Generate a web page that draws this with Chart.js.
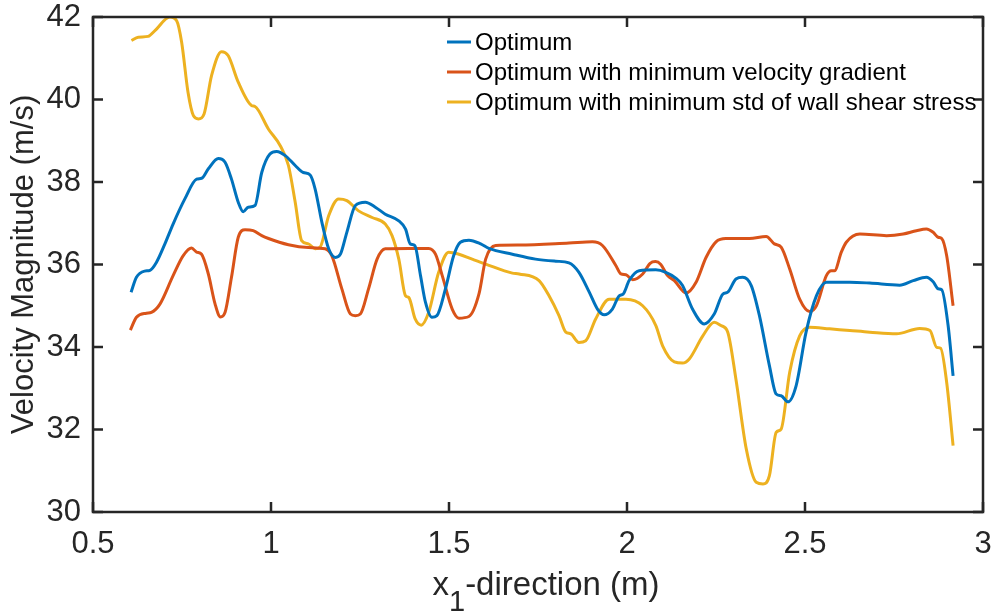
<!DOCTYPE html>
<html>
<head>
<meta charset="utf-8">
<script src="https://cdn.jsdelivr.net/npm/chart.js@4.4.1/dist/chart.umd.min.js"></script>
<style>
  body { margin: 0; background: #fff; }
  #chart_content { display: block; }
</style>
</head>
<body>
<canvas id="chart_content" width="995" height="613"></canvas>
<script>
var xTicks = [0.5, 1, 1.5, 2, 2.5, 3];
var yTicks = [30, 32, 34, 36, 38, 40, 42];

var seriesNames = [
  "Optimum",
  "Optimum with minimum velocity gradient",
  "Optimum with minimum std of wall shear stress",
];

var optimumX = [0.607, 0.622, 0.645, 0.660, 0.678, 0.702, 0.725, 0.758, 0.791, 0.805, 0.824, 0.852, 0.871, 0.889, 0.908, 0.922, 0.936, 0.955, 0.974, 0.997, 1.016, 1.040, 1.068, 1.091, 1.110, 1.124, 1.143, 1.162, 1.181, 1.195, 1.213, 1.237, 1.265, 1.293, 1.321, 1.359, 1.378, 1.391, 1.404, 1.420, 1.434, 1.452, 1.466, 1.490, 1.513, 1.532, 1.556, 1.589, 1.612, 1.678, 1.743, 1.800, 1.837, 1.865, 1.894, 1.917, 1.936, 1.959, 1.978, 1.989, 2.006, 2.034, 2.081, 2.109, 2.137, 2.156, 2.184, 2.217, 2.245, 2.269, 2.283, 2.306, 2.325, 2.349, 2.372, 2.400, 2.419, 2.433, 2.452, 2.475, 2.503, 2.532, 2.560, 2.626, 2.682, 2.766, 2.804, 2.841, 2.860, 2.874, 2.884, 2.902, 2.916];
var optimumY = [35.33, 35.69, 35.84, 35.86, 36.05, 36.50, 36.98, 37.59, 38.07, 38.09, 38.32, 38.57, 38.48, 38.07, 37.51, 37.28, 37.39, 37.43, 38.23, 38.68, 38.74, 38.64, 38.40, 38.23, 38.17, 37.83, 37.02, 36.38, 36.17, 36.25, 36.78, 37.43, 37.51, 37.39, 37.22, 37.06, 36.86, 36.50, 36.46, 35.73, 35.08, 34.72, 34.76, 35.41, 36.21, 36.54, 36.59, 36.50, 36.39, 36.25, 36.13, 36.08, 36.04, 35.81, 35.33, 34.92, 34.78, 34.92, 35.24, 35.28, 35.61, 35.85, 35.87, 35.81, 35.67, 35.49, 34.92, 34.56, 34.80, 35.28, 35.33, 35.65, 35.69, 35.49, 34.76, 33.55, 32.86, 32.82, 32.67, 33.06, 34.36, 35.24, 35.57, 35.57, 35.55, 35.50, 35.61, 35.69, 35.58, 35.41, 35.39, 34.52, 33.30];

var gradientX = [0.605, 0.622, 0.650, 0.664, 0.688, 0.725, 0.753, 0.777, 0.791, 0.805, 0.824, 0.843, 0.858, 0.871, 0.889, 0.908, 0.927, 0.950, 0.974, 0.993, 1.049, 1.105, 1.152, 1.171, 1.199, 1.223, 1.237, 1.251, 1.274, 1.298, 1.321, 1.387, 1.443, 1.462, 1.481, 1.509, 1.528, 1.556, 1.584, 1.603, 1.631, 1.697, 1.837, 1.903, 1.931, 1.969, 1.983, 1.997, 2.016, 2.044, 2.065, 2.080, 2.095, 2.114, 2.133, 2.166, 2.194, 2.222, 2.250, 2.278, 2.344, 2.391, 2.414, 2.433, 2.457, 2.485, 2.513, 2.532, 2.560, 2.574, 2.583, 2.602, 2.616, 2.654, 2.729, 2.776, 2.813, 2.841, 2.860, 2.874, 2.884, 2.898, 2.916];
var gradientY = [34.41, 34.72, 34.82, 34.84, 35.04, 35.73, 36.21, 36.40, 36.30, 36.25, 35.77, 35.04, 34.73, 34.84, 35.69, 36.66, 36.84, 36.82, 36.70, 36.63, 36.48, 36.41, 36.38, 36.21, 35.41, 34.80, 34.76, 34.80, 35.41, 36.13, 36.38, 36.39, 36.39, 36.25, 35.73, 34.92, 34.70, 34.74, 35.28, 36.13, 36.46, 36.47, 36.52, 36.55, 36.46, 35.97, 35.77, 35.75, 35.63, 35.77, 36.03, 36.07, 36.00, 35.73, 35.61, 35.31, 35.57, 36.17, 36.55, 36.63, 36.63, 36.68, 36.50, 36.42, 35.89, 35.16, 34.86, 35.00, 35.73, 35.85, 35.85, 36.30, 36.54, 36.74, 36.70, 36.74, 36.82, 36.86, 36.78, 36.66, 36.63, 36.21, 35.00];

var wssX = [0.608, 0.627, 0.655, 0.674, 0.716, 0.735, 0.749, 0.767, 0.782, 0.796, 0.812, 0.833, 0.861, 0.880, 0.908, 0.946, 0.955, 0.993, 1.026, 1.049, 1.068, 1.086, 1.105, 1.124, 1.138, 1.162, 1.190, 1.213, 1.246, 1.284, 1.321, 1.340, 1.359, 1.378, 1.387, 1.405, 1.422, 1.443, 1.471, 1.499, 1.528, 1.565, 1.603, 1.678, 1.697, 1.753, 1.781, 1.809, 1.828, 1.842, 1.865, 1.884, 1.912, 1.950, 1.997, 2.044, 2.081, 2.100, 2.133, 2.156, 2.175, 2.213, 2.245, 2.264, 2.283, 2.306, 2.335, 2.363, 2.382, 2.400, 2.419, 2.433, 2.457, 2.485, 2.513, 2.569, 2.626, 2.682, 2.757, 2.822, 2.851, 2.870, 2.881, 2.898, 2.916];
var wssY = [41.43, 41.51, 41.53, 41.67, 42.00, 41.91, 41.39, 40.17, 39.61, 39.53, 39.65, 40.58, 41.16, 41.06, 40.42, 39.85, 39.83, 39.28, 38.88, 38.40, 37.51, 36.58, 36.50, 36.38, 36.42, 37.18, 37.59, 37.55, 37.30, 37.14, 36.98, 36.70, 36.13, 35.24, 35.20, 34.68, 34.53, 34.84, 35.81, 36.30, 36.25, 36.13, 36.01, 35.79, 35.77, 35.61, 35.24, 34.76, 34.36, 34.32, 34.11, 34.15, 34.68, 35.16, 35.16, 35.00, 34.52, 34.03, 33.64, 33.61, 33.71, 34.27, 34.60, 34.52, 34.36, 33.22, 31.53, 30.72, 30.68, 30.88, 31.93, 32.01, 33.39, 34.27, 34.48, 34.44, 34.40, 34.36, 34.32, 34.45, 34.40, 33.99, 33.97, 33.14, 31.61];

var colors = ["#0072BD", "#D95319", "#EDB120"];
var axisColor = "#262626";
var fontFamily = "'Liberation Sans', Arial, Helvetica, sans-serif";

function toPoints(xs, ys) {
  return xs.map(function (x, i) { return { x: x, y: ys[i] }; });
}

// box round the plot with inward ticks on all four sides (MATLAB style)
var boxPlugin = {
  id: "box",
  afterDatasetsDraw: function (chart) {
    var ctx = chart.ctx;
    var a = chart.chartArea;
    var xs = chart.scales.x, ys = chart.scales.y;
    var len = 10;
    ctx.save();
    ctx.strokeStyle = axisColor;
    ctx.lineWidth = 2.5;
    ctx.strokeRect(a.left, a.top, a.right - a.left, a.bottom - a.top);
    ctx.beginPath();
    xTicks.forEach(function (v) {
      var px = xs.getPixelForValue(v);
      ctx.moveTo(px, a.bottom); ctx.lineTo(px, a.bottom - len);
      ctx.moveTo(px, a.top); ctx.lineTo(px, a.top + len);
    });
    yTicks.forEach(function (v) {
      var py = ys.getPixelForValue(v);
      ctx.moveTo(a.left, py); ctx.lineTo(a.left + len, py);
      ctx.moveTo(a.right, py); ctx.lineTo(a.right - len, py);
    });
    ctx.stroke();
    ctx.restore();
  },
};

// legend inside the plot, no frame
var legendPlugin = {
  id: "insideLegend",
  afterDraw: function (chart) {
    var ctx = chart.ctx;
    var x0 = 447, y0 = 42, rowH = 30;
    ctx.save();
    ctx.font = "24px " + fontFamily;
    ctx.textBaseline = "middle";
    ctx.textAlign = "left";
    chart.data.datasets.forEach(function (ds, i) {
      var y = y0 + i * rowH;
      ctx.strokeStyle = ds.borderColor;
      ctx.lineWidth = 3;
      ctx.beginPath();
      ctx.moveTo(x0, y);
      ctx.lineTo(x0 + 24, y);
      ctx.stroke();
      ctx.fillStyle = "#000";
      ctx.fillText(ds.label, x0 + 28, y + 1);
    });
    ctx.restore();
  },
};

// x-axis title with a lowered full-size "1", as in the MATLAB figure
var xTitlePlugin = {
  id: "xTitle",
  afterDraw: function (chart) {
    var ctx = chart.ctx;
    var a = chart.chartArea;
    var parts = ["x", "1", "-direction (m)"];
    var big = "33px " + fontFamily, small = "29px " + fontFamily;
    ctx.save();
    ctx.fillStyle = axisColor;
    ctx.textBaseline = "alphabetic";
    ctx.textAlign = "left";
    ctx.font = big;
    var w0 = ctx.measureText(parts[0]).width;
    var w2 = ctx.measureText(parts[2]).width;
    ctx.font = small;
    var w1 = ctx.measureText(parts[1]).width;
    var x = (a.left + a.right) / 2 - (w0 + w1 + w2) / 2 + 8;
    var base = 595;
    ctx.font = big;
    ctx.fillText(parts[0], x, base);
    ctx.font = small;
    ctx.fillText(parts[1], x + w0, base + 16);
    ctx.font = big;
    ctx.fillText(parts[2], x + w0 + w1, base);
    ctx.restore();
  },
};

var datasets = [
  { label: seriesNames[0], data: toPoints(optimumX, optimumY), borderColor: colors[0] },
  { label: seriesNames[1], data: toPoints(gradientX, gradientY), borderColor: colors[1] },
  { label: seriesNames[2], data: toPoints(wssX, wssY), borderColor: colors[2] },
].map(function (d) {
  d.borderWidth = 3;
  d.pointRadius = 0;
  d.fill = false;
  d.cubicInterpolationMode = "monotone";
  return d;
});

var config = {
  type: "line",
  data: { datasets: datasets },
  options: {
    responsive: false,
    animation: false,
    devicePixelRatio: 1,
    layout: { padding: { top: 17, right: 12, left: 0, bottom: 0 } },
    plugins: {
      legend: { display: false },
      tooltip: { enabled: false },
    },
    scales: {
      x: {
        type: "linear",
        min: 0.5,
        max: 3,
        afterBuildTicks: function (s) { s.ticks = xTicks.map(function (v) { return { value: v }; }); },
        afterFit: function (s) {
          s.height = 101;
          s.paddingLeft = 0;
          s.paddingRight = 0;
        },
        grid: { display: false, drawTicks: false },
        border: { display: false },
        ticks: {
          color: axisColor,
          padding: 14,
          maxRotation: 0,
          font: { family: fontFamily, size: 31 },
          callback: function (v) { return String(v); },
        },
        title: { display: false },
      },
      y: {
        type: "linear",
        min: 30,
        max: 42,
        afterBuildTicks: function (s) { s.ticks = yTicks.map(function (v) { return { value: v }; }); },
        afterFit: function (s) {
          s.width = 93;
          s.paddingTop = 0;
          s.paddingBottom = 0;
        },
        grid: { display: false, drawTicks: false },
        border: { display: false },
        ticks: {
          color: axisColor,
          padding: 12,
          font: { family: fontFamily, size: 31 },
          callback: function (v) { return String(v); },
        },
        title: {
          display: true,
          text: "Velocity Magnitude (m/s)",
          color: axisColor,
          font: { family: fontFamily, size: 31 },
          padding: { top: 6, bottom: 0 },
        },
      },
    },
  },
  plugins: [boxPlugin, legendPlugin, xTitlePlugin],
};

var content_chart = new Chart(document.getElementById("chart_content"), config);
</script>
</body>
</html>
